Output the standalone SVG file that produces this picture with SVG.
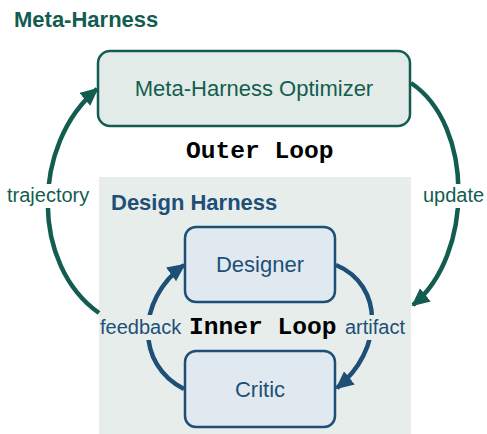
<svg xmlns="http://www.w3.org/2000/svg" width="487" height="434" viewBox="0 0 487 434">
  <style>
    .sans { font-family: "Liberation Sans", Arial, sans-serif; }
    .mono { font-family: "Liberation Mono", "Courier New", monospace; font-weight: bold; font-size: 24.6px; fill: #000; }
    .title { font-weight: bold; font-size: 22px; }
    .green { fill: #135d50; }
    .blue { fill: #1e4f77; }
    .lbl { font-size: 20px; }
    .boxlbl { font-size: 22px; text-anchor: middle; }
    .outer { fill: none; stroke: #135d50; stroke-width: 4.5; }
    .inner { fill: none; stroke: #1e4f77; stroke-width: 4.5; }
  </style>
  <defs>
    <marker id="ag" markerUnits="userSpaceOnUse" markerWidth="20" markerHeight="18" refX="16" refY="8.5" orient="auto">
      <path d="M0,0 L18,8.5 L0,17 z" fill="#135d50"/>
    </marker>
    <marker id="ab" markerUnits="userSpaceOnUse" markerWidth="20" markerHeight="18" refX="16" refY="8.5" orient="auto">
      <path d="M0,0 L18,8.5 L0,17 z" fill="#1e4f77"/>
    </marker>
  </defs>
  <rect width="487" height="434" fill="#ffffff"/>

  <text class="sans title green" x="14" y="27">Meta-Harness</text>

  <g id="design-harness">
    <rect x="99" y="177" width="312" height="257" fill="#e6edeb"/>
    <text class="sans title blue" x="111" y="210">Design Harness</text>
  </g>

  <g id="optimizer">
    <rect x="98" y="51" width="312" height="75" rx="12" fill="#e3ebe8" stroke="#135d50" stroke-width="2.5"/>
    <text class="sans boxlbl green" x="254" y="96">Meta-Harness Optimizer</text>
  </g>

  <g id="connectors">
    <path class="outer" d="M99,313 C31,265 31,145 97,89" marker-end="url(#ag)"/>
    <path class="outer" d="M411,83 C474,125 474,255 413,305" marker-end="url(#ag)"/>
    <path class="inner" d="M336,265 C384,285 384,350 337,388" marker-end="url(#ab)"/>
    <path class="inner" d="M184,389 C136,365 136,300 184,265" marker-end="url(#ab)"/>
    <rect x="4" y="184" width="88" height="24" fill="#ffffff"/>
    <rect x="420" y="184" width="67" height="24" fill="#ffffff"/>
    <rect x="99" y="315" width="84" height="25" fill="#e6edeb"/>
    <rect x="343" y="315" width="66" height="25" fill="#e6edeb"/>
    <text class="sans lbl green" x="7" y="202">trajectory</text>
    <text class="sans lbl green" x="423" y="202">update</text>
    <text class="sans lbl blue" x="100" y="334">feedback</text>
    <text class="sans lbl blue" x="345" y="334">artifact</text>
  </g>

  <text class="mono" x="186" y="158">Outer Loop</text>
  <text class="mono" x="189" y="334">Inner Loop</text>

  <g id="designer">
    <rect x="185" y="227" width="150" height="75" rx="11" fill="#e1e9f0" stroke="#1e4f77" stroke-width="2.5"/>
    <text class="sans boxlbl blue" x="260" y="272">Designer</text>
  </g>

  <g id="critic">
    <rect x="185" y="351" width="150" height="76" rx="11" fill="#e1e9f0" stroke="#1e4f77" stroke-width="2.5"/>
    <text class="sans boxlbl blue" x="260" y="397">Critic</text>
  </g>
</svg>
